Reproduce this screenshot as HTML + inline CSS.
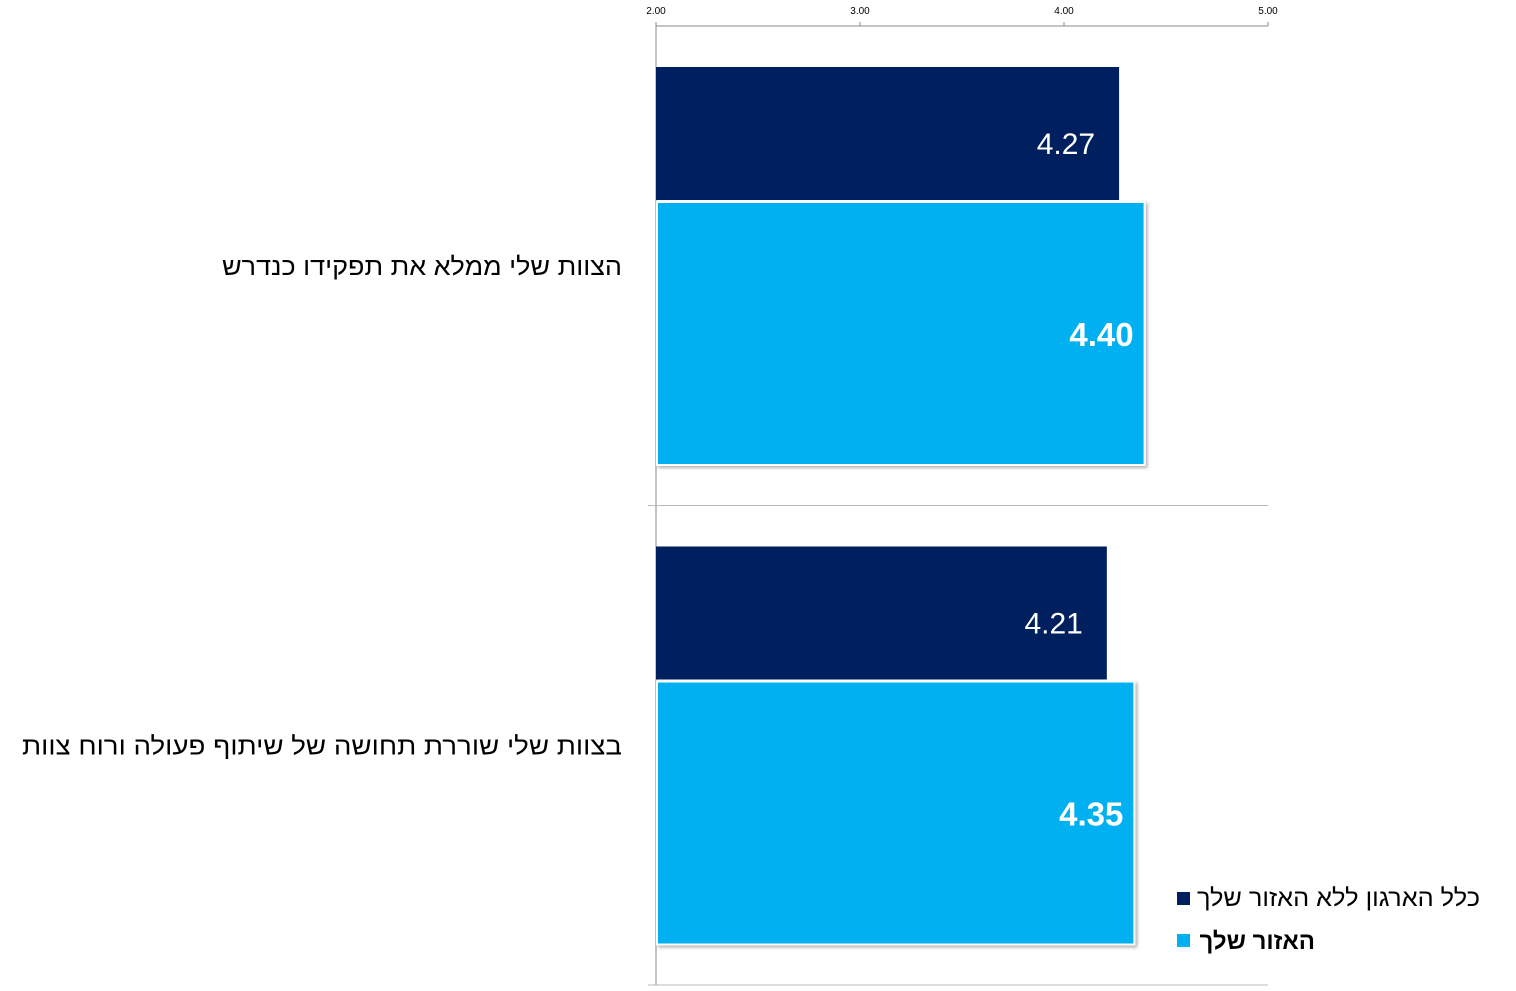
<!DOCTYPE html>
<html><head><meta charset="utf-8"><style>
body{margin:0;background:#fff;width:1516px;height:991px;overflow:hidden}
svg{display:block}
text{font-family:"Liberation Sans","Noto Sans CJK JP",sans-serif}
</style></head><body>
<svg id="chart" width="1516" height="991" xmlns="http://www.w3.org/2000/svg">
<defs><filter id="sh" x="-5%" y="-5%" width="115%" height="115%"><feDropShadow dx="2" dy="2" stdDeviation="1.5" flood-color="#000" flood-opacity="0.3"/></filter></defs>
<g id="axes"></g><g id="bars"></g><g id="labels"></g>
<g>
<rect x="1177" y="892" width="13" height="13" fill="#001f5f"/>
<text x="1197" y="906" textLength="283" lengthAdjust="spacingAndGlyphs" font-size="24" fill="#000">כלל הארגון ללא האזור שלך</text>
<rect x="1177" y="934" width="13" height="13" fill="#00b0f0"/>
<text x="1315" y="949" text-anchor="end" font-size="24" font-weight="bold" fill="#000">האזור שלך</text>
</g>
</svg>
<script>
const categories=["הצוות שלי ממלא את תפקידו כנדרש","בצוות שלי שוררת תחושה של שיתוף פעולה  ורוח צוות"];
const orgValues=[4.27,4.21];
const regionValues=[4.40,4.35];
const ticks=[2,3,4,5];
const labelStarts=[222,22];
const NS="http://www.w3.org/2000/svg";
const x0=656,x1=1268,vmin=2,vmax=5,plotTop=26,plotBottom=985;
const xs=v=>x0+(v-vmin)/(vmax-vmin)*(x1-x0);
const band=(plotBottom-plotTop)/categories.length;
function mk(tag,attrs,parent,txt){const e=document.createElementNS(NS,tag);for(const k in attrs)e.setAttribute(k,attrs[k]);if(txt!==undefined)e.textContent=txt;document.getElementById(parent).appendChild(e);return e;}
let e=mk('line',{x1:x0,y1:plotTop,x2:x1,y2:plotTop,stroke:'#888','stroke-width':1},'axes');


e=mk('line',{x1:x0,y1:plotTop-4,x2:x0,y2:plotBottom,stroke:'#888','stroke-width':1},'axes');


ticks.forEach(t=>{
  const x=xs(t);
  let l=mk('line',{x1:x,y1:plotTop-4,x2:x,y2:plotTop,stroke:'#888'},'axes');
  
  
  let tx=mk('text',{x:x,y:14,'text-anchor':'middle','font-size':10,fill:'#000'},'axes',t.toFixed(2));
  
  
});
categories.forEach((c,i)=>{
  const y=plotTop+band*(i+1);
  let l=mk('line',{x1:x0-8,y1:y,x2:x1,y2:y,stroke:'#bbb'},'axes');
  
  
  const by=plotTop+band*i;
  const ov=orgValues[i],rv=regionValues[i];
  let r=mk('rect',{x:x0,y:by+41,width:xs(ov)-x0,height:133,fill:'#001f5f'},'bars');
  
  
  let t=mk('text',{x:xs(ov)-24,y:by+128,'text-anchor':'end','font-size':30,fill:'#fff'},'labels',ov.toFixed(2));
  
  
  r=mk('rect',{x:x0+1,y:by+176,width:xs(rv)-x0-2,height:263,fill:'#00b0f0',stroke:'#fff','stroke-width':2,filter:'url(#sh)'},'bars');
  
  
  t=mk('text',{x:xs(rv)-12,y:by+320,'text-anchor':'end','font-size':33,'font-weight':'bold',fill:'#fff'},'labels',rv.toFixed(2));
  
  
  t=mk('text',{x:labelStarts[i],y:by+249,textLength:622-labelStarts[i],lengthAdjust:'spacingAndGlyphs','font-size':25,fill:'#000'},'labels',c);
  
  
});
</script>
</body></html>
